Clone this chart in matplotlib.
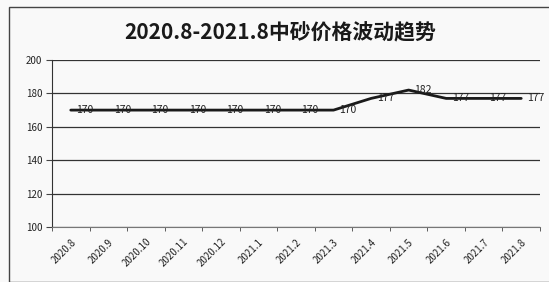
import matplotlib.pyplot as plt
from matplotlib.patches import Rectangle
import numpy as np

plt.rcParams['font.family'] = ['Noto Sans CJK SC', 'DejaVu Sans']

months = ['2020.8', '2020.9', '2020.10', '2020.11', '2020.12', '2021.1', '2021.2',
          '2021.3', '2021.4', '2021.5', '2021.6', '2021.7', '2021.8']
prices = [170, 170, 170, 170, 170, 170, 170, 170, 177, 182, 177, 177, 177]
y_ticks = [100, 120, 140, 160, 180, 200]

fig = plt.figure(figsize=(5.49, 2.82), dpi=100)
fig.patch.set_facecolor('#f9f9f9')

# chart border
fig.add_artist(Rectangle((9 / 549, 0), 1.0, 1 - 7 / 282, transform=fig.transFigure,
                         facecolor='none', edgecolor='#444444', linewidth=1.0))

ax = fig.add_axes([52 / 549, 1 - 227 / 282, 488 / 549, 167 / 282])
ax.set_facecolor('none')

x = np.arange(len(months))
ax.plot(x, prices, color='#1a1a1a', linewidth=2.0, solid_capstyle='round')

for xi, v in zip(x, prices):
    ax.annotate(str(v), (xi, v), xytext=(4, 0), textcoords='offset points',
                ha='left', va='center', fontsize=7.5, color='#222222')

ax.set_xlim(-0.5, len(months) - 0.5)
ax.set_ylim(100, 200)
ax.set_yticks(y_ticks)
ax.set_yticklabels([str(t) for t in y_ticks], fontsize=7, color='#222222')
ax.yaxis.grid(True, color='#333333', linewidth=0.9)
ax.set_axisbelow(True)

ax.set_xticks(x)
ax.set_xticklabels(months, rotation=45, ha='right', rotation_mode='anchor',
                   fontsize=7, color='#222222')
ax.set_xticks(np.arange(-0.5, len(months)), minor=True)
ax.tick_params(axis='x', which='major', length=0, pad=7)
ax.tick_params(axis='x', which='minor', length=3, color='#444444')
ax.tick_params(axis='y', length=4, color='#444444', pad=3)

for s in ['top', 'right']:
    ax.spines[s].set_visible(False)
ax.spines['left'].set_color('#333333')
ax.spines['bottom'].set_color('#777777')

fig.text(0.51, 1 - 33 / 282, '2020.8-2021.8中砂价格波动趋势', ha='center', va='center',
         fontsize=15, fontweight='bold', color='#1a1a1a')

plt.savefig('out.png', dpi=100)
